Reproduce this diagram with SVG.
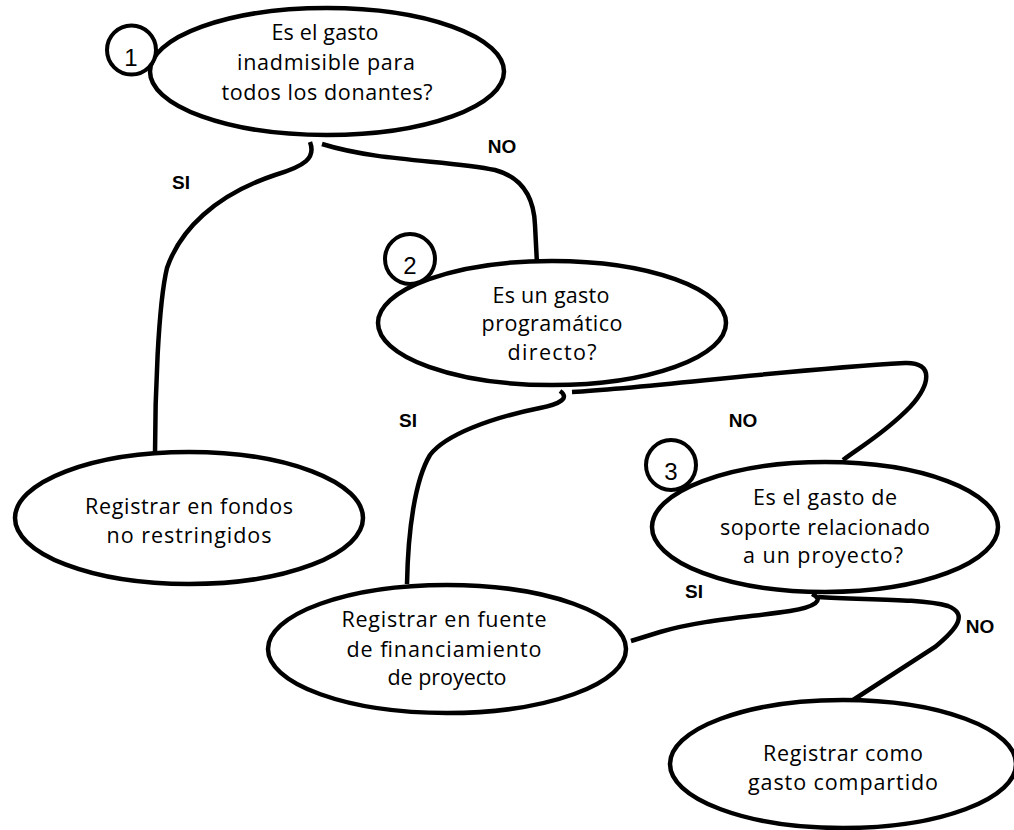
<svg xmlns="http://www.w3.org/2000/svg" width="1014" height="830" viewBox="0 0 1014 830">
<style>
.bg{fill:#ffffff}
.conn path{fill:none;stroke:#000;stroke-width:4.5;stroke-linecap:butt}
.node ellipse{fill:#fff;stroke:#000;stroke-width:4.5}
.num circle{fill:#fff;stroke:#000;stroke-width:4}
.t{font-family:"Open Sans","Liberation Sans",sans-serif;font-size:21.5px;fill:#000;text-anchor:middle}
.n{font-family:"Liberation Sans",Arial,sans-serif;font-size:24px;fill:#000;text-anchor:middle}
.lbl{font-family:"Liberation Sans",Arial,sans-serif;font-size:19px;font-weight:bold;fill:#000;text-anchor:middle}
</style>
<rect class="bg" x="0" y="0" width="1014" height="830"/>
<g id="connectors" class="conn">
  <path d="M310,142 C316,158 305,166 275,175 C215,195 180,230 167,268 C158,305 155,400 155,454"/>
  <path d="M322,144 C380,162 450,160 495,170 C525,178 534,200 535,225 L537,264"/>
  <path d="M560,391 C570,398 560,404 540,408 C490,418 445,435 430,455 C415,480 408,530 407,584"/>
  <path d="M572,392 C650,388 780,370 905,363 C935,362 930,385 910,407 C885,433 860,447 843,460"/>
  <path d="M812,594 C825,600 815,607 790,611 C750,617 700,620 660,632 L631,641"/>
  <path d="M818,597 C860,600 920,598 948,606 C968,614 958,628 935,647 L850,702"/>
</g>
<g id="labels">
  <text class="lbl" x="181" y="189">SI</text>
  <text class="lbl" x="502" y="153">NO</text>
  <text class="lbl" x="408" y="427">SI</text>
  <text class="lbl" x="743" y="427">NO</text>
  <text class="lbl" x="694" y="598">SI</text>
  <text class="lbl" x="980" y="633">NO</text>
</g>
<g id="node1" class="node">
  <ellipse cx="327" cy="71.5" rx="177" ry="63.5"/>
  <text class="t" x="325" y="40" textLength="107" lengthAdjust="spacing">Es el gasto</text>
  <text class="t" x="326" y="70" textLength="178" lengthAdjust="spacing">inadmisible para</text>
  <text class="t" x="327" y="100" textLength="211" lengthAdjust="spacing">todos los donantes?</text>
</g>
<g id="node2" class="node">
  <ellipse cx="552" cy="323" rx="174" ry="62"/>
  <text class="t" x="551" y="303" textLength="117" lengthAdjust="spacing">Es un gasto</text>
  <text class="t" x="552" y="331" textLength="141" lengthAdjust="spacing">programático</text>
  <text class="t" x="552" y="360" textLength="89" lengthAdjust="spacing">directo?</text>
</g>
<g id="node3" class="node">
  <ellipse cx="825" cy="527" rx="173" ry="65"/>
  <text class="t" x="825" y="505" textLength="144" lengthAdjust="spacing">Es el gasto de</text>
  <text class="t" x="825" y="535" textLength="210" lengthAdjust="spacing">soporte relacionado</text>
  <text class="t" x="823" y="563" textLength="160" lengthAdjust="spacing">a un proyecto?</text>
</g>
<g id="node4" class="node">
  <ellipse cx="189" cy="518" rx="174" ry="66"/>
  <text class="t" x="189" y="514" textLength="208" lengthAdjust="spacing">Registrar en fondos</text>
  <text class="t" x="189" y="543" textLength="165" lengthAdjust="spacing">no restringidos</text>
</g>
<g id="node5" class="node">
  <ellipse cx="447" cy="649" rx="179" ry="64"/>
  <text class="t" x="444" y="627" textLength="205" lengthAdjust="spacing">Registrar en fuente</text>
  <text class="t" x="444" y="657" textLength="195" lengthAdjust="spacing">de financiamiento</text>
  <text class="t" x="447" y="685" textLength="119" lengthAdjust="spacing">de proyecto</text>
</g>
<g id="node6" class="node">
  <ellipse cx="843" cy="764" rx="173" ry="64"/>
  <text class="t" x="843" y="761" textLength="160" lengthAdjust="spacing">Registrar como</text>
  <text class="t" x="843" y="790" textLength="190" lengthAdjust="spacing">gasto compartido</text>
</g>
<g id="num1" class="num">
  <circle cx="131.5" cy="50" r="24.5"/>
  <text class="n" x="131" y="66">1</text>
</g>
<g id="num2" class="num">
  <circle cx="410" cy="259" r="25"/>
  <text class="n" x="410" y="274">2</text>
</g>
<g id="num3" class="num">
  <circle cx="671" cy="465" r="25"/>
  <text class="n" x="671" y="480">3</text>
</g>
</svg>
